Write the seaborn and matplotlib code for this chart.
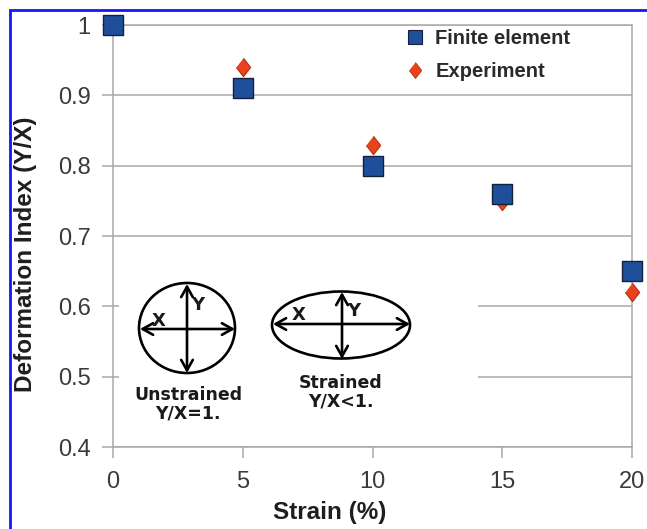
import matplotlib
matplotlib.use("Agg")
import matplotlib.pyplot as plt
from matplotlib.patches import Ellipse, Rectangle, FancyArrowPatch
from matplotlib.lines import Line2D
import seaborn as sns

# Deformation index measured vs. simulated at each strain level
strain = [0, 5, 10, 15, 20]
finite_element = [1.00, 0.91, 0.80, 0.76, 0.65]
experiment = [1.00, 0.94, 0.83, 0.75, 0.62]

x_ticks = [0, 5, 10, 15, 20]
y_ticks = [0.4, 0.5, 0.6, 0.7, 0.8, 0.9, 1.0]
y_tick_labels = ["0.4", "0.5", "0.6", "0.7", "0.8", "0.9", "1"]
series_names = ["Finite element", "Experiment"]

sns.set_theme(style="white")
plt.rcParams["font.family"] = ["Liberation Sans", "DejaVu Sans"]

W, H = 647, 529
fig = plt.figure(figsize=(W / 100, H / 100), dpi=100)
fig.patch.set_facecolor("white")

# plot box in pixel terms: left 113, right 632, top 25, bottom 447
ax = fig.add_axes([113 / W, 1 - 447 / H, (632 - 113) / W, (447 - 25) / H])
ax.set_facecolor("white")

GRID = "#a8a8a8"
SQ_FACE, SQ_EDGE = "#1f4e9a", "#14213d"
DI_FACE, DI_EDGE = "#e8431c", "#b0300f"
diamond = [(0, 1), (0.78, 0), (0, -1), (-0.78, 0)]

sns.scatterplot(x=strain, y=experiment, marker=diamond, s=175, color=DI_FACE,
                edgecolor=DI_EDGE, linewidth=0.8, clip_on=False, zorder=3, ax=ax)
sns.scatterplot(x=strain, y=finite_element, marker="s", s=190, color=SQ_FACE,
                edgecolor=SQ_EDGE, linewidth=1.0, clip_on=False, zorder=4, ax=ax)

ax.set_xlim(0, 20)
ax.set_ylim(0.4, 1.0)
ax.set_xticks(x_ticks)
ax.set_xticklabels([str(v) for v in x_ticks])
ax.set_yticks(y_ticks)
ax.set_yticklabels(y_tick_labels)
ax.yaxis.grid(True, color=GRID, lw=1.1)
ax.xaxis.grid(False)
for sp in ax.spines.values():
    sp.set_color(GRID)
    sp.set_linewidth(1.1)
ax.tick_params(axis="both", direction="out", length=8, width=1.1, color=GRID,
               labelsize=17, labelcolor="#3a3a3a", bottom=True, left=True)
ax.tick_params(axis="y", pad=8)
ax.tick_params(axis="x", pad=9)
ax.set_xlabel("")
ax.set_ylabel("")

fig.text(330 / W, 1 - 513 / H, "Strain (%)", ha="center", va="center",
         fontsize=17.5, fontweight="bold", color="#1e1e1e")
fig.text(26 / W, 1 - 254 / H, "Deformation Index (Y/X)", ha="center", va="center",
         rotation=90, fontsize=17.5, fontweight="bold", color="#1e1e1e")

handles = [
    Line2D([], [], ls="", marker="s", markersize=10, markerfacecolor=SQ_FACE,
           markeredgecolor=SQ_EDGE, markeredgewidth=0.8),
    Line2D([], [], ls="", marker=diamond, markersize=11.5, markerfacecolor=DI_FACE,
           markeredgecolor=DI_EDGE, markeredgewidth=0.6),
]
ax.legend(handles, series_names, loc="upper left",
          bbox_to_anchor=(405 / W, 1 - 29 / H), bbox_transform=fig.transFigure,
          frameon=False, borderpad=0, borderaxespad=0, handlelength=1.0,
          handletextpad=0.5, labelspacing=0.68,
          prop={"size": 14.5, "weight": "bold"}, labelcolor="#2a2a2a")

# overlay in pixel coordinates for the strain sketch and the page frame
ov = fig.add_axes([0, 0, 1, 1], zorder=5)
ov.set_xlim(0, W)
ov.set_ylim(H, 0)
ov.axis("off")
ov.patch.set_alpha(0)

ov.add_patch(Rectangle((119, 244), 478 - 119, 444 - 244, facecolor="white",
                       edgecolor="none", zorder=1))

LW = 1.9
ov.add_patch(Ellipse((187, 328), 96, 90, facecolor="none", edgecolor="black", lw=LW, zorder=2))
ov.add_patch(Ellipse((341, 325), 138, 67, facecolor="none", edgecolor="black", lw=LW, zorder=2))

arrow_kw = dict(arrowstyle="<->,head_length=0.5,head_width=0.28", mutation_scale=15,
                color="black", lw=LW, shrinkA=0, shrinkB=0, zorder=3)
for (xa, ya), (xb, yb) in [((187, 284), (187, 373)), ((140, 329), (235, 329)),
                           ((342, 292), (342, 359)), ((273, 324), (410, 324))]:
    ov.add_patch(FancyArrowPatch((xa, ya), (xb, yb), **arrow_kw))

sketch_font = dict(family="DejaVu Sans", fontweight="bold", color="#1a1a1a")
ov.text(159, 321, "X", ha="center", va="center", fontsize=13, **sketch_font)
ov.text(198, 305, "Y", ha="center", va="center", fontsize=13, **sketch_font)
ov.text(299, 315, "X", ha="center", va="center", fontsize=13, **sketch_font)
ov.text(354, 311, "Y", ha="center", va="center", fontsize=13, **sketch_font)
ov.text(188, 404, "Unstrained\nY/X=1.", ha="center", va="center", fontsize=12.5,
        linespacing=1.05, **sketch_font)
ov.text(341, 392, "Strained\nY/X<1.", ha="center", va="center", fontsize=12.5,
        linespacing=1.05, **sketch_font)

ov.add_line(Line2D([9.5, 9.5, W], [H, 9.5, 9.5], color="#1414ff", lw=2.0,
                   solid_joinstyle="miter", zorder=4))

fig.savefig("out.png", dpi=100, facecolor="white")
